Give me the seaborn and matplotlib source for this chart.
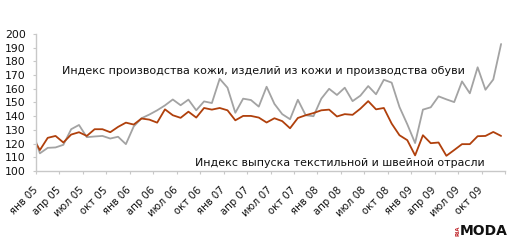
import matplotlib
matplotlib.use('Agg')
import matplotlib.pyplot as plt
import seaborn as sns
import pandas as pd

# месяцы: дек 04 (обрезан краем оси), затем янв 05 ... дек 09
months = ['дек 04'] + [f'{m} {y:02d}' for y in range(5, 10)
                       for m in ['янв', 'фев', 'мар', 'апр', 'май', 'июн',
                                 'июл', 'авг', 'сен', 'окт', 'ноя', 'дек']]

# Индекс производства кожи, изделий из кожи и производства обуви
leather = [130,
           112.9, 116.9, 117.2, 119.1, 130.5, 133.6, 124.7, 125.2, 125.6, 123.7, 125.0, 119.6,
           132.5, 138.5, 141.2, 144.3, 147.9, 152.2, 148.0, 152.1, 144.3, 150.8, 149.6, 167.3,
           160.8, 142.5, 152.8, 151.8, 147.0, 161.5, 149.0, 141.5, 137.8, 152.0, 140.7, 140.0,
           152.8, 160.0, 155.5, 160.8, 151.0, 155.0, 162.0, 156.0, 166.6, 164.5, 146.7, 134.1,
           120.4, 144.8, 146.5, 154.5, 152.3, 150.3, 165.4, 156.7, 175.7, 159.3, 166.8, 192.7]

# Индекс выпуска текстильной и швейной отрасли
textile = [125,
           115.3, 124.2, 125.6, 120.8, 126.6, 128.3, 125.6, 130.5, 130.5, 128.3, 132.2, 135.3,
           133.9, 138.3, 137.5, 135.3, 145.0, 140.7, 138.8, 143.3, 139.0, 146.0, 144.8, 146.0,
           144.3, 137.0, 140.2, 140.2, 139.0, 135.4, 138.5, 136.4, 131.2, 138.7, 140.7, 142.3,
           144.3, 144.8, 139.8, 141.5, 141.0, 145.5, 151.0, 145.0, 146.0, 134.6, 126.1, 122.5,
           111.4, 126.1, 120.3, 120.8, 111.1, 115.3, 119.6, 119.6, 125.4, 125.6, 128.5, 125.6]

tick_labels = [f'{m} {y:02d}' for y in range(5, 10) for m in ['янв', 'апр', 'июл', 'окт']]

df = pd.DataFrame({'месяц': months, 'кожа': leather, 'текстиль': textile})
# точка месяца стоит в середине своего интервала
df['x'] = [i - 0.5 for i in range(len(df))]

sns.set_style('white')
plt.rcParams['font.family'] = ['DejaVu Sans']

fig = plt.figure(figsize=(5.2, 2.49), dpi=100)
ax = fig.add_axes([36 / 520, 1 - 171 / 249, (505 - 36) / 520, (171 - 34) / 249])

sns.lineplot(data=df, x='x', y='кожа', ax=ax, color='#a3a3a3', linewidth=1.3)
sns.lineplot(data=df, x='x', y='текстиль', ax=ax, color='#b0400c', linewidth=1.3)

ax.set_xlim(0, 60)
ax.set_ylim(100, 200)
ax.set_yticks(range(100, 201, 10))
ax.set_xticks(range(0, 61, 3))
ax.set_xticklabels(tick_labels + [''])
ax.set_xlabel('')
ax.set_ylabel('')

for s in ['top', 'right']:
    ax.spines[s].set_visible(False)
for s in ['left', 'bottom']:
    ax.spines[s].set_color('#c8c8c8')
    ax.spines[s].set_linewidth(1)

ax.tick_params(axis='y', length=2.5, width=0.8, color='#c8c8c8', pad=5,
               labelsize=7.8, labelcolor='#111111', left=True)
ax.tick_params(axis='x', length=2.5, width=0.8, color='#c8c8c8', pad=10,
               labelsize=7.3, labelcolor='#111111', bottom=True)
for lbl in ax.get_xticklabels():
    lbl.set_rotation(45)
    lbl.set_ha('right')
    lbl.set_va('center')
    lbl.set_rotation_mode('anchor')

ax.text(3.3, 173, 'Индекс производства кожи, изделий из кожи и производства обуви',
        fontsize=8.0, color='#111111', va='center', ha='left')
ax.text(20.3, 105.5, 'Индекс выпуска текстильной и швейной отрасли',
        fontsize=7.95, color='#111111', va='center', ha='left')

# логотип
fig.text(460 / 520, 1 - 231 / 249, 'RIA', fontsize=4, fontweight='bold', color='#c0282d',
         rotation=90, ha='right', va='center')
fig.text(460 / 520, 1 - 231 / 249, 'MODA', fontsize=10, fontweight='heavy', color='#111111',
         ha='left', va='center')

fig.savefig('out.png', dpi=100)
